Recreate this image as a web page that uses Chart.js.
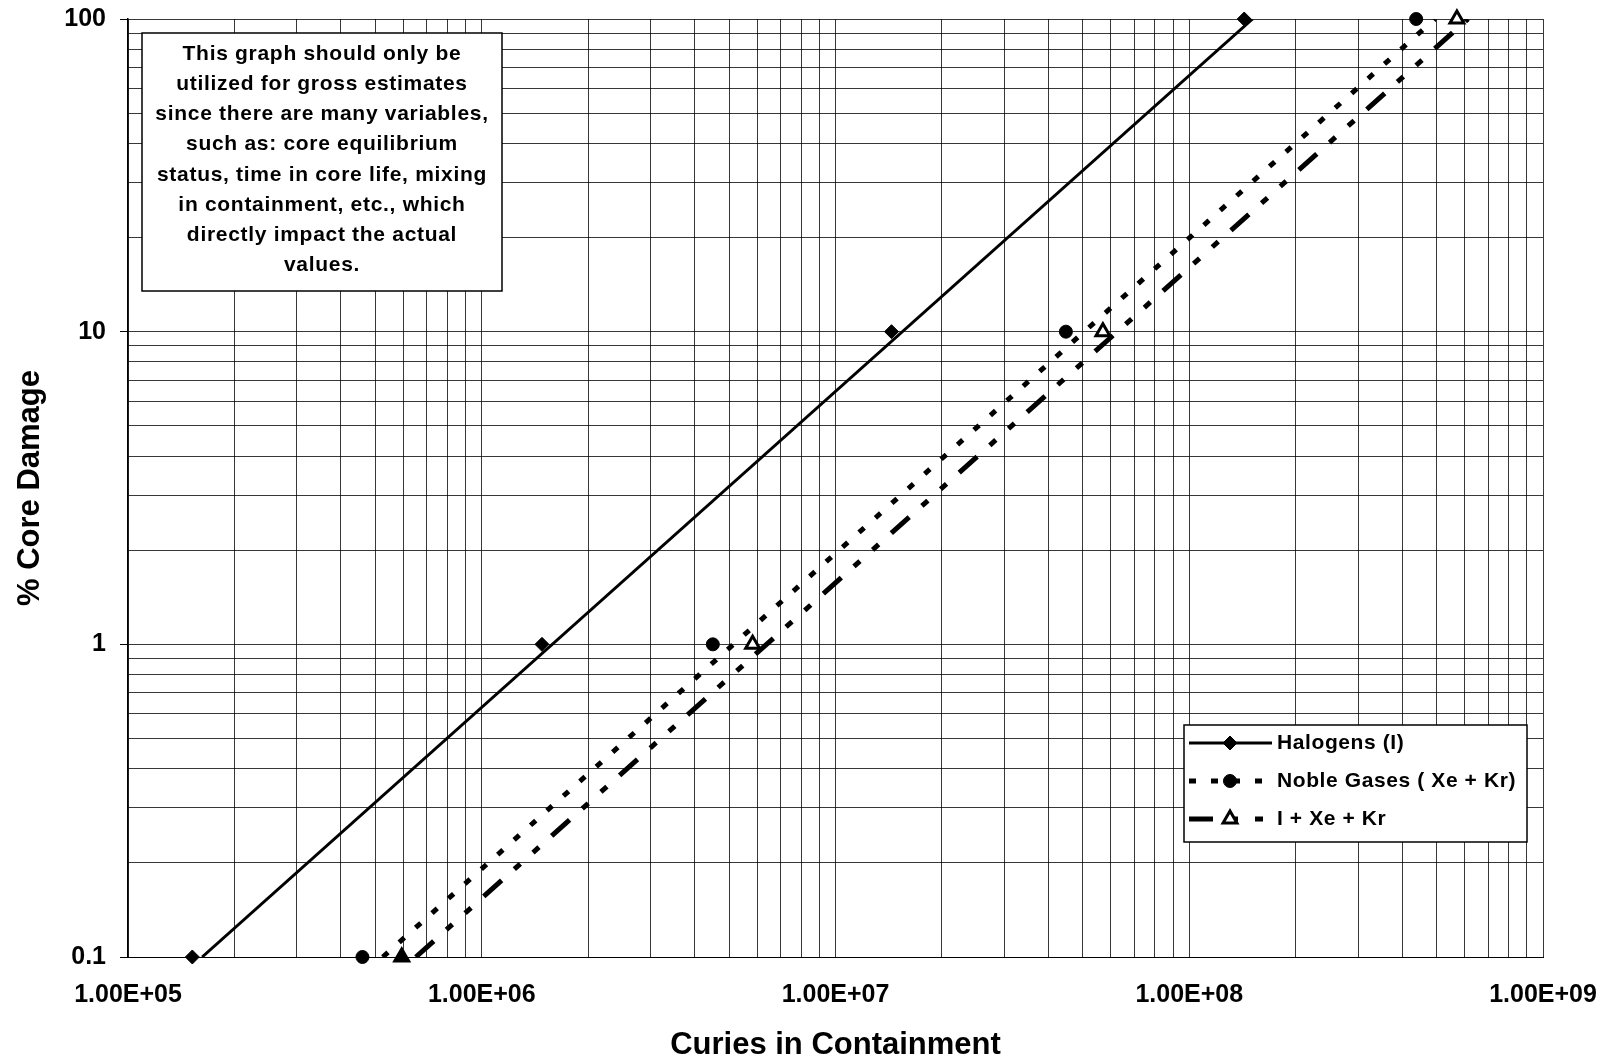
<!DOCTYPE html>
<html>
<head>
<meta charset="utf-8">
<script src="https://cdn.jsdelivr.net/npm/chart.js@4/dist/chart.umd.min.js"></script>
<style>
  html, body { margin: 0; padding: 0; background: #fff; }
  #wrap { width: 1608px; height: 1064px; position: relative; }
</style>
</head>
<body>
<div id="wrap"><canvas id="c" width="1608" height="1064"></canvas></div>
<script>
// ---------------- data ----------------
const seriesNames = ['Halogens (I)', 'Noble Gases ( Xe + Kr)', 'I + Xe + Kr'];
const coreDamage = [0.1, 1, 10, 100];                 // % core damage at marker points
const halogenCuries  = [1.52e5, 1.48e6, 1.44e7, 1.43e8];
const nobleCuries    = [4.6e5, 4.5e6, 4.48e7, 4.38e8];
const combinedCuries = [5.94e5, 5.83e6, 5.7e7, 5.71e8];
const lineDamage = [0.1, 100];                         // drawn lines (end points)
const halogenLineCuries  = [1.62e5, 1.51e8];
const nobleLineCuries    = [5.25e5, 4.95e8];
const combinedLineCuries = [6.51e5, 6.14e8];
const xMajorTicks = [1e5, 1e6, 1e7, 1e8, 1e9];
const xTickLabels = ['1.00E+05', '1.00E+06', '1.00E+07', '1.00E+08', '1.00E+09'];
const yMajorTicks = [0.1, 1, 10, 100];
const yTickLabels = ['0.1', '1', '10', '100'];
const xTitle = 'Curies in Containment';
const yTitle = '% Core Damage';
const noteLines = [
  'This graph should only be',
  'utilized for gross estimates',
  'since there are many variables,',
  'such as: core equilibrium',
  'status, time in core life, mixing',
  'in containment, etc., which',
  'directly impact the actual',
  'values.'
];

// ---------------- helpers ----------------
const FONT = "'Liberation Sans', Arial, Helvetica, sans-serif";
function logGrid(majors) {
  const out = [];
  for (let i = 0; i < majors.length - 1; i++) {
    for (let k = 1; k <= 9; k++) out.push(k * majors[i]);
  }
  out.push(majors[majors.length - 1]);
  return out;
}
function majorIndex(v, majors) {
  return majors.findIndex(m => Math.abs(v - m) / m < 1e-9);
}
const toPts = (xs, ys) => xs.map((x, i) => ({ x: x, y: ys[i] }));

const styles = [
  { dash: [], width: 3, pointStyle: 'rectRot', radius: 7, fill: '#000', pbw: 1 },
  { dash: [7, 15], width: 5, pointStyle: 'circle', radius: 6.5, fill: '#000', pbw: 1 },
  { dash: [24, 17, 8, 17, 8, 17], width: 5, pointStyle: 'triangle', radius: 8, fill: '#fff', pbw: 3 }
];
const lineSeries = [halogenLineCuries, nobleLineCuries, combinedLineCuries];
const markerSeries = [halogenCuries, nobleCuries, combinedCuries];

const datasets = [];
lineSeries.forEach((xs, i) => {
  datasets.push({
    label: seriesNames[i] + ' line',
    data: toPts(xs, lineDamage),
    showLine: true,
    borderColor: '#000',
    borderWidth: styles[i].width,
    borderDash: styles[i].dash,
    borderCapStyle: 'butt',
    pointRadius: 0,
    pointHoverRadius: 0,
    order: 2
  });
});
markerSeries.forEach((xs, i) => {
  datasets.push({
    label: seriesNames[i],
    data: toPts(xs, coreDamage),
    showLine: false,
    pointStyle: styles[i].pointStyle,
    pointRadius: styles[i].radius,
    pointHoverRadius: styles[i].radius,
    // the lowest triangle is printed solid in the reference
    pointBackgroundColor: c => (i === 2 && c.dataIndex === 0) ? '#000' : styles[i].fill,
    pointBorderColor: '#000',
    pointBorderWidth: styles[i].pbw,
    clip: false,
    order: 1
  });
});

// ---------------- overlay: note box + legend ----------------
function drawMarker(ctx, style, x, y) {
  ctx.save();
  ctx.fillStyle = style.fill;
  ctx.strokeStyle = '#000';
  ctx.lineWidth = style.pbw;
  ctx.setLineDash([]);
  if (Chart.helpers && Chart.helpers.drawPoint) {
    Chart.helpers.drawPoint(ctx, { pointStyle: style.pointStyle, radius: style.radius, rotation: 0, borderWidth: style.pbw }, x, y);
  } else {
    ctx.beginPath();
    ctx.arc(x, y, style.radius, 0, Math.PI * 2);
    ctx.fill(); ctx.stroke();
  }
  ctx.restore();
}

const overlay = {
  id: 'overlay',
  afterDraw(chart) {
    const ctx = chart.ctx;
    ctx.save();
    // note box
    const nb = { x: 142, y: 33, w: 360, h: 258 };
    ctx.fillStyle = '#fff';
    ctx.fillRect(nb.x, nb.y, nb.w, nb.h);
    ctx.strokeStyle = '#000';
    ctx.lineWidth = 1.5;
    ctx.strokeRect(nb.x, nb.y, nb.w, nb.h);
    ctx.fillStyle = '#000';
    ctx.font = 'bold 21px ' + FONT;
    try { ctx.letterSpacing = '0.7px'; } catch (e) {}
    ctx.textAlign = 'center';
    ctx.textBaseline = 'middle';
    noteLines.forEach((t, i) => ctx.fillText(t, nb.x + nb.w / 2, nb.y + 21 + i * 30.2));
    try { ctx.letterSpacing = '0px'; } catch (e) {}

    // legend box
    const lb = { x: 1184, y: 725, w: 343, h: 117 };
    ctx.fillStyle = '#fff';
    ctx.fillRect(lb.x, lb.y, lb.w, lb.h);
    ctx.strokeStyle = '#000';
    ctx.lineWidth = 1.5;
    ctx.strokeRect(lb.x, lb.y, lb.w, lb.h);
    seriesNames.forEach((name, i) => {
      const y = lb.y + 18 + i * 38;
      const st = styles[i];
      ctx.save();
      ctx.strokeStyle = '#000';
      ctx.lineWidth = st.width;
      ctx.lineCap = 'butt';
      ctx.setLineDash(st.dash);
      ctx.beginPath();
      ctx.moveTo(lb.x + 5, y);
      ctx.lineTo(lb.x + 88, y);
      ctx.stroke();
      ctx.restore();
      drawMarker(ctx, st, lb.x + 46, y);
      ctx.fillStyle = '#000';
      ctx.font = 'bold 21px ' + FONT;
      try { ctx.letterSpacing = '0.6px'; } catch (e) {}
      ctx.textAlign = 'left';
      ctx.textBaseline = 'middle';
      ctx.fillText(name, lb.x + 93, y);
      try { ctx.letterSpacing = '0px'; } catch (e) {}
    });
    ctx.restore();
  }
};

// ---------------- chart ----------------
const xTickValues = logGrid(xMajorTicks);
const yTickValues = logGrid(yMajorTicks);
const gridColor = 'rgba(0,0,0,0.78)';

new Chart(document.getElementById('c'), {
  type: 'scatter',
  data: { datasets: datasets },
  options: {
    responsive: false,
    animation: false,
    devicePixelRatio: 1,
    layout: { autoPadding: false, padding: { left: 0, top: 19, right: 65, bottom: 0 } },
    plugins: { legend: { display: false }, tooltip: { enabled: false } },
    events: [],
    scales: {
      x: {
        type: 'logarithmic',
        min: xMajorTicks[0],
        max: xMajorTicks[xMajorTicks.length - 1],
        afterBuildTicks: s => { s.ticks = xTickValues.map(v => ({ value: v })); },
        afterFit: s => { s.height = 107; s.paddingLeft = 0; s.paddingRight = 0; },
        ticks: {
          autoSkip: false, maxRotation: 0, minRotation: 0, padding: 23,
          color: '#000', font: { family: FONT, size: 25, weight: 'bold' },
          callback: v => { const i = majorIndex(v, xMajorTicks); return i >= 0 ? xTickLabels[i] : ''; }
        },
        grid: { color: gridColor, lineWidth: 1, drawTicks: false },
        border: { color: '#000', width: 1 },
        title: {
          display: true, text: xTitle, color: '#000',
          font: { family: FONT, size: 31, weight: 'bold' }, padding: { top: 0, bottom: 0 }
        }
      },
      y: {
        type: 'logarithmic',
        min: yMajorTicks[0],
        max: yMajorTicks[yMajorTicks.length - 1],
        afterBuildTicks: s => { s.ticks = yTickValues.map(v => ({ value: v })); },
        afterFit: s => { s.width = 128; s.paddingTop = 0; s.paddingBottom = 0; },
        ticks: {
          autoSkip: false, padding: 14,
          color: '#000', font: { family: FONT, size: 25, weight: 'bold' },
          callback: v => { const i = majorIndex(v, yMajorTicks); return i >= 0 ? yTickLabels[i] : ''; }
        },
        grid: {
          color: gridColor, lineWidth: 1, drawTicks: true, tickLength: 8,
          tickColor: c => (c.tick && majorIndex(c.tick.value, yMajorTicks) >= 0) ? '#000' : 'rgba(0,0,0,0)'
        },
        border: { color: '#000', width: 1.5 },
        title: {
          display: true, text: yTitle, color: '#000',
          font: { family: FONT, size: 31, weight: 'bold' }, padding: { top: 12, bottom: 0 }
        }
      }
    }
  },
  plugins: [overlay]
});
</script>
</body>
</html>
